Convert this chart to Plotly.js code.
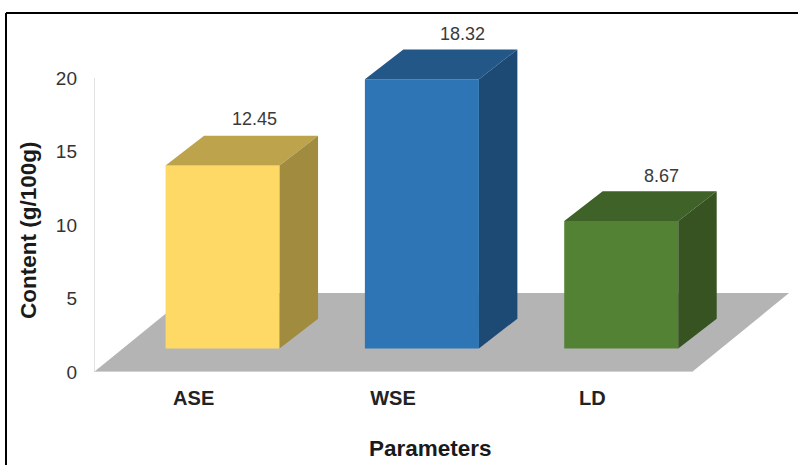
<!DOCTYPE html>
<html>
<head>
<meta charset="utf-8">
<script src="https://cdn.plot.ly/plotly-3.0.1.min.js"></script>
<style>html,body{margin:0;padding:0;background:#fff;overflow:hidden}</style>
</head>
<body>
<div id="chart" style="width:798px;height:465px"></div>
<script>
// Chart content
const categories = ["ASE", "WSE", "LD"];
const contents = [12.45, 18.32, 8.67];
const frontColors = ["#FFD966", "#2E75B6", "#548235"];
const topColors = ["#BDA44C", "#235788", "#3F6228"];
const sideColors = ["#A08B3E", "#1C4A75", "#365321"];
const yTicks = [0, 5, 10, 15, 20];

// Oblique projection, in axis units
const barOffset = 0.145, barWidth = 0.572, barLift = 1.6;
const depthX = 0.193, depthY = 2.03;
const floorBack = 5.37, floorSkew = 0.487;
const labelNudge = [-7, 2, 2];
const labelLift = [5, 3, 3];

const left = i => i + barOffset - barWidth / 2;
const right = i => i + barOffset + barWidth / 2;

// Top and side faces of each box, projected from its value
const faces = contents.flatMap((v, i) => {
  const t = barLift + v;
  return [
    { type: "scatter", mode: "lines", fill: "toself", fillcolor: topColors[i],
      line: { width: 0 }, hoverinfo: "skip", showlegend: false,
      x: [left(i), right(i), right(i) + depthX, left(i) + depthX, left(i)],
      y: [t, t, t + depthY, t + depthY, t] },
    { type: "scatter", mode: "lines", fill: "toself", fillcolor: sideColors[i],
      line: { width: 0 }, hoverinfo: "skip", showlegend: false,
      x: [right(i), right(i) + depthX, right(i) + depthX, right(i), right(i)],
      y: [barLift, barLift + depthY, t + depthY, t, barLift] }
  ];
});

const fronts = {
  type: "bar", x: categories.map((c, i) => i + barOffset), y: contents,
  base: contents.map(() => barLift), width: barWidth,
  marker: { color: frontColors, line: { width: 0 } },
  hovertemplate: "%{y}<extra></extra>", showlegend: false
};

// Left wall edge
const wall = {
  type: "scatter", mode: "lines", x: [-0.5, -0.5], y: [0, 20],
  line: { color: "#D9D9D9", width: 1.5 }, hoverinfo: "skip", showlegend: false
};

const floorPath = `M -0.5 0 L 2.5 0 L ${2.5 + floorSkew} ${floorBack} ` +
                  `L ${-0.5 + floorSkew} ${floorBack} Z`;

const layout = {
  width: 798, height: 465,
  margin: { l: 94, r: 0, t: 10, b: 93 },
  paper_bgcolor: "#fff", plot_bgcolor: "rgba(0,0,0,0)",
  font: { family: "Liberation Sans, Arial, sans-serif", color: "#333" },
  showlegend: false,
  xaxis: {
    range: [-0.5, -0.5 + 704 / 199.33], tickmode: "array",
    tickvals: categories.map((c, i) => i), ticktext: categories.map(c => "<b>" + c + "</b>"),
    tickfont: { size: 20, color: "#222" }, showgrid: false, zeroline: false, showline: false,
    ticks: "", ticklabelstandoff: 12
  },
  yaxis: {
    range: [0, 24.63], tickmode: "array", tickvals: yTicks,
    tickfont: { size: 19, color: "#333" }, showgrid: false, zeroline: false, showline: false,
    ticks: "", ticklabelstandoff: 16
  },
  shapes: [
    { type: "path", path: floorPath, layer: "below", fillcolor: "#B4B4B4", line: { width: 0 } },
    { type: "line", x0: -0.5, x1: 2.5, y0: 0, y1: 0, layer: "below",
      line: { color: "#DDDDDD", width: 1.5 } },
    // Picture frame: left and top rules only
    { type: "line", xref: "paper", yref: "paper", x0: -88 / 704, x1: -88 / 704, y0: -93 / 362, y1: 359 / 362,
      layer: "above", line: { color: "#000", width: 2 } },
    { type: "line", xref: "paper", yref: "paper", x0: -88 / 704, x1: 1, y0: 359 / 362, y1: 359 / 362,
      layer: "above", line: { color: "#000", width: 2 } }
  ],
  annotations: [
    ...contents.map((v, i) => ({
      x: i + barOffset + depthX, y: barLift + v + depthY, text: v.toFixed(2),
      showarrow: false, yanchor: "bottom", xshift: labelNudge[i], yshift: labelLift[i],
      font: { size: 18, color: "#3a3a3a" }
    })),
    { xref: "paper", yref: "paper", x: -66 / 704, y: 0.5, text: "<b>Content (g/100g)</b>",
      textangle: -90, showarrow: false, xanchor: "center", yanchor: "middle", yshift: -39,
      font: { size: 22.5, color: "#1a1a1a" } },
    { xref: "paper", yref: "paper", x: 336 / 704, y: 0, text: "<b>Parameters</b>",
      showarrow: false, xanchor: "center", yanchor: "middle", yshift: -76,
      font: { size: 22.5, color: "#1a1a1a" } }
  ]
};

Plotly.newPlot("chart", [fronts, ...faces, wall], layout, { displayModeBar: false, staticPlot: true });
</script>
</body>
</html>
